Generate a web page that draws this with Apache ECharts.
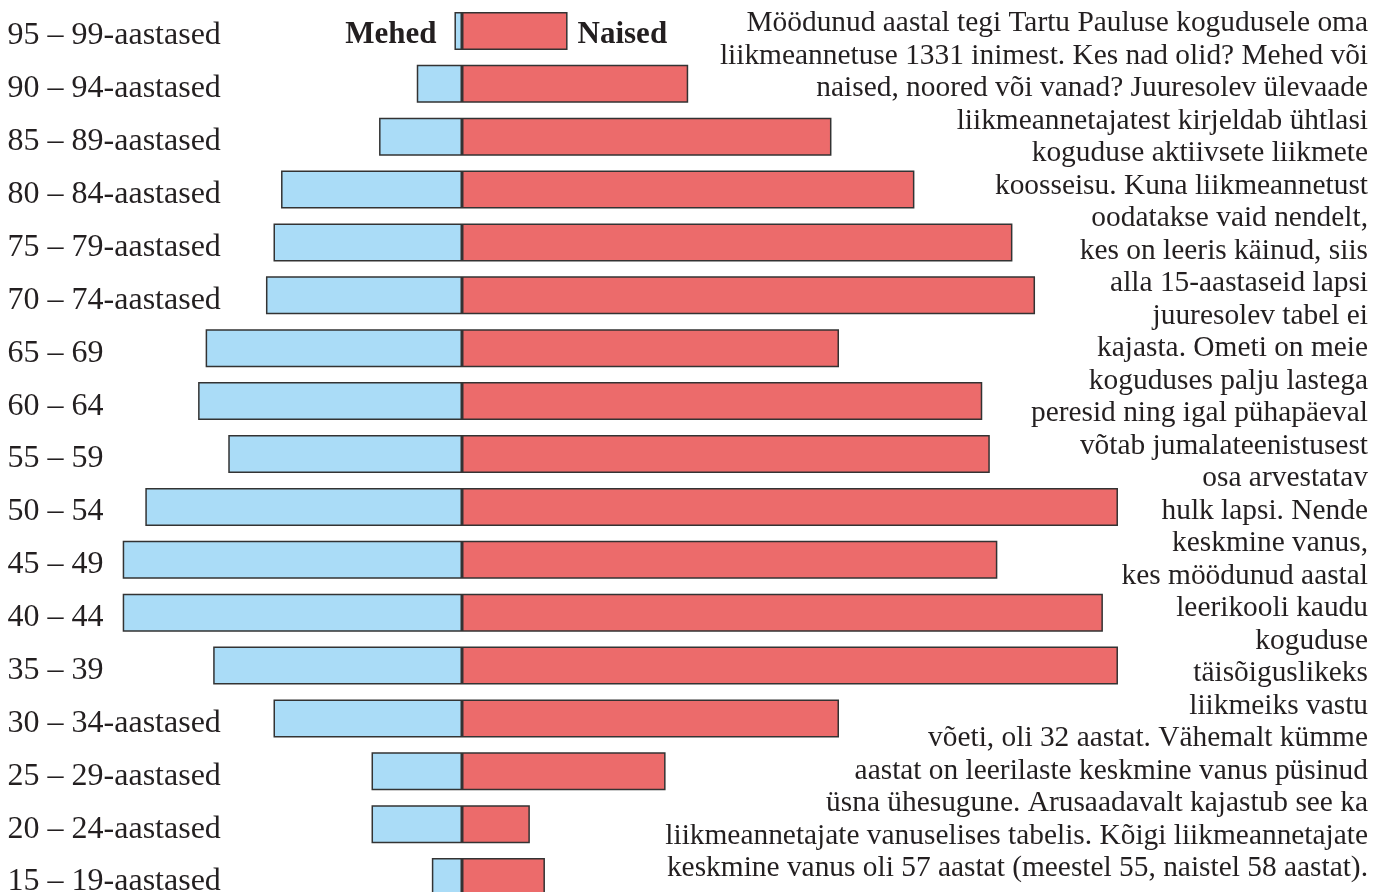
<!DOCTYPE html>
<html>
<head>
<meta charset="utf-8">
<style>
  html, body { margin: 0; padding: 0; background: #fff; }
  #chart { width: 1385px; height: 892px; }
</style>
<script src="https://cdn.jsdelivr.net/npm/echarts@6/dist/echarts.min.js"></script>
</head>
<body>
<div id="chart"></div>
<script>
// vanuserühmad ülevalt alla
const ageGroups = [
  '95 – 99-aastased', '90 – 94-aastased', '85 – 89-aastased', '80 – 84-aastased',
  '75 – 79-aastased', '70 – 74-aastased', '65 – 69', '60 – 64', '55 – 59',
  '50 – 54', '45 – 49', '40 – 44', '35 – 39', '30 – 34-aastased',
  '25 – 29-aastased', '20 – 24-aastased', '15 – 19-aastased'
]
const men = [1, 6, 11, 24, 25, 26, 34, 35, 31, 42, 45, 45, 33, 25, 12, 12, 4]
const women = [14, 30, 49, 60, 73, 76, 50, 69, 70, 87, 71, 85, 87, 50, 27, 9, 11]

const infoText = [
  'Möödunud aastal tegi Tartu Pauluse kogudusele oma',
  'liikmeannetuse 1331 inimest. Kes nad olid? Mehed või',
  'naised, noored või vanad? Juuresolev ülevaade',
  'liikmeannetajatest kirjeldab ühtlasi',
  'koguduse aktiivsete liikmete',
  'koosseisu. Kuna liikmeannetust',
  'oodatakse vaid nendelt,',
  'kes on leeris käinud, siis',
  'alla 15-aastaseid lapsi',
  'juuresolev tabel ei',
  'kajasta. Ometi on meie',
  'koguduses palju lastega',
  'peresid ning igal pühapäeval',
  'võtab jumalateenistusest',
  'osa arvestatav',
  'hulk lapsi. Nende',
  'keskmine vanus,',
  'kes möödunud aastal',
  'leerikooli kaudu',
  'koguduse',
  'täisõiguslikeks',
  'liikmeiks vastu',
  'võeti, oli 32 aastat. Vähemalt kümme',
  'aastat on leerilaste keskmine vanus püsinud',
  'üsna ühesugune. Arusaadavalt kajastub see ka',
  'liikmeannetajate vanuselises tabelis. Kõigi liikmeannetajate',
  'keskmine vanus oli 57 aastat (meestel 55, naistel 58 aastat).'
]

const serif = '"Liberation Serif", "DejaVu Serif", serif'
const ink = '#231f20'

const menData = men.map((v, i) => {
  let item = { value: -v }
  if (i === 0) {
    item.label = { show: true, position: 'left', distance: 18, formatter: 'Mehed' }
  }
  return item
})
const womenData = women.map((v, i) => {
  let item = { value: v }
  if (i === 0) {
    item.label = { show: true, position: 'right', distance: 10, formatter: 'Naised' }
  }
  return item
})

// paremal olev tekst, iga rida eraldi paremale joondatult
const textLines = infoText.map((line, i) => ({
  type: 'text',
  x: 1368,
  y: 9 + i * 32.5,
  style: {
    text: line,
    align: 'right',
    verticalAlign: 'top',
    fill: ink,
    font: '29.4px ' + serif
  }
}))

const myChart = echarts.init(document.getElementById('chart'), null, { renderer: 'canvas' })

myChart.setOption({
  animation: false,
  grid: {
    left: 9.6,
    top: 4.5,
    width: 1357.2,
    height: 899,
    containLabel: false,
    outerBoundsMode: 'none'
  },
  xAxis: {
    type: 'value',
    min: -60,
    max: 120,
    show: false,
    splitLine: { show: false }
  },
  yAxis: {
    type: 'category',
    data: ageGroups,
    inverse: true,
    axisLine: { show: false },
    axisTick: { show: false },
    axisLabel: {
      align: 'left',
      margin: 2,
      formatter: (v) => '{a|' + v + '}',
      rich: {
        a: {
          color: ink,
          fontFamily: serif,
          fontSize: 32,
          padding: [10, 0, 0, 0]
        }
      }
    }
  },
  series: [
    {
      name: 'Mehed',
      type: 'bar',
      stack: 'total',
      barWidth: 38,
      data: menData,
      itemStyle: { color: '#aadcf7', borderColor: '#333', borderWidth: 1.5 },
      label: { color: ink, fontFamily: serif, fontSize: 31, fontWeight: 'bold', offset: [0, 4] }
    },
    {
      name: 'Naised',
      type: 'bar',
      stack: 'total',
      barWidth: 38,
      data: womenData,
      itemStyle: { color: '#ec6b6b', borderColor: '#333', borderWidth: 1.5 },
      label: { color: ink, fontFamily: serif, fontSize: 31, fontWeight: 'bold', offset: [0, 4] }
    }
  ],
  graphic: textLines
})
</script>
</body>
</html>
